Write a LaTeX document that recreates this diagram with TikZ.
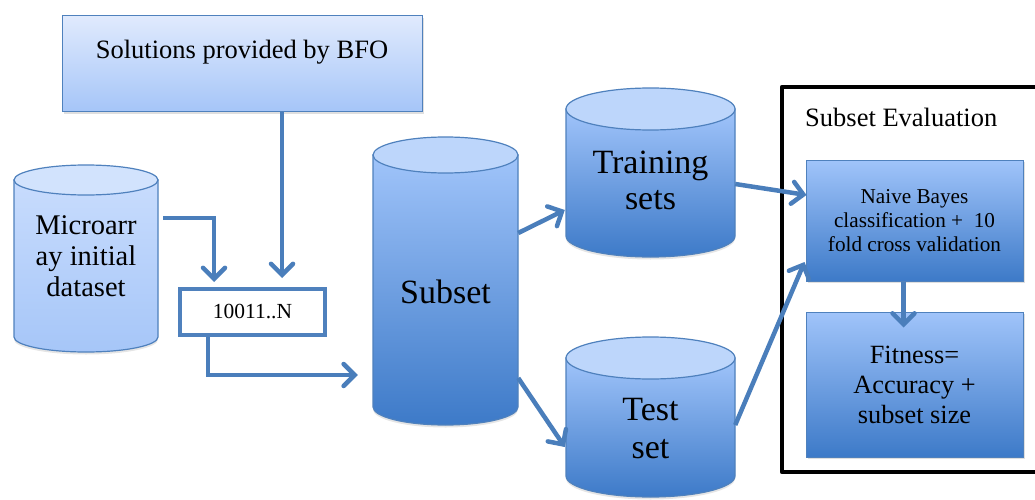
\documentclass[tikz,border=0pt]{standalone}
\usepackage{fontspec}
\setmainfont{Liberation Serif}
\usetikzlibrary{arrows.meta,shadows}
\definecolor{lineblue}{HTML}{4F81BD}
\definecolor{arrblue}{HTML}{4A7EBB}
\definecolor{dtop}{HTML}{A0C4FA}
\definecolor{dbot}{HTML}{3D7AC8}
\definecolor{dcap}{HTML}{BDD6FB}
\definecolor{ltop}{HTML}{C8DCFD}
\definecolor{lbot}{HTML}{A6C6F8}
\definecolor{lcap}{HTML}{D2E3FD}
\definecolor{btop}{HTML}{E0EAFD}
\definecolor{bbot}{HTML}{A5C5F8}
\newcommand\drawcyl[8]{%
  \path[draw=lineblue, line width=1.2pt, top color=#6, bottom color=#7,
        drop shadow={opacity=0.2, shadow xshift=0pt, shadow yshift=-2.5pt}]
    (#1,#3) -- (#1,#4) arc[start angle=180,end angle=360,x radius={(#2-#1)/2},y radius=#5]
    -- (#2,#3) -- cycle;
  \path[draw=lineblue, line width=1.2pt, fill=#8]
    ({(#1+#2)/2},#3) ellipse[x radius={(#2-#1)/2}, y radius=#5];
}
\tikzset{
  cyltext/.style={inner sep=0pt, align=center},
  gradbox/.style={draw=lineblue, line width=1pt, top color=dtop, bottom color=dbot,
    inner sep=0pt, align=center, minimum width=217pt,
    drop shadow={opacity=0.25, shadow xshift=2pt, shadow yshift=-2pt}},
  arr/.style={draw=arrblue, line width=4.5pt,
    -{Straight Barb[length=11pt,width=22pt,line cap=round]}},
}
\begin{document}
\begin{tikzpicture}[x=1pt,y=1pt]
\useasboundingbox (0,0) rectangle (1035,499);
\clip (0,0) rectangle (1035,499);
\fill[white] (0,0) rectangle (1035,499);

% cylinders
\drawcyl{14}{158}{319}{162}{15}{ltop}{lbot}{lcap}
\drawcyl{373}{518}{344}{92}{18}{dtop}{dbot}{dcap}
\drawcyl{566}{735}{390}{263}{21}{dtop}{dbot}{dcap}
\drawcyl{566}{735}{141}{23}{21}{dtop}{dbot}{dcap}

\node[cyltext, minimum width=144pt, font=\fontsize{28.5}{31}\selectfont] (micro) at (86,243) {Microarr\\ay initial\\dataset};
\node[cyltext, minimum width=145pt, font=\fontsize{34}{36}\selectfont] (sub) at (445.5,207) {Subset};
\node[cyltext, minimum width=169pt, font=\fontsize{34}{36}\selectfont] (train) at (650.5,318.5) {Training\\sets};
\node[cyltext, minimum width=169pt, font=\fontsize{34}{38}\selectfont] (test) at (650.5,70) {Test\\set};

% top box
\node[draw=lineblue, line width=1pt, top color=btop, bottom color=bbot,
      minimum width=360pt, minimum height=96pt, inner sep=0pt,
      text height=18pt, text depth=28pt,
      drop shadow={opacity=0.25, shadow xshift=2pt, shadow yshift=-2pt},
      font=\fontsize{26.5}{30}\selectfont] (bfo) at (242,435) {Solutions provided by BFO};

% bit string box
\node[draw=lineblue, line width=4pt, fill=white, minimum width=145pt, minimum height=46pt,
      inner sep=0pt, font=\fontsize{21.5}{24}\selectfont] (bits) at (252.5,187) {10011..N};

% evaluation frame
\draw[line width=4.5pt, line join=round] (1045,412) -- (782,412) -- (782,27) -- (1045,27);
\node[anchor=west, inner sep=0pt, font=\fontsize{26.5}{30}\selectfont] (evtitle) at (805,382) {Subset Evaluation};

\node[gradbox, minimum height=121pt, font=\fontsize{21.2}{24}\selectfont] (naive) at (914.5,278.5)
  {Naive Bayes\\classification +\ \ 10\\fold cross validation};
\node[gradbox, minimum height=145pt, font=\fontsize{26.3}{30}\selectfont] (fit) at (914.5,114.5)
  {Fitness=\\Accuracy +\\subset size};

% connectors
\draw[arr] ([xshift=5pt,yshift=38pt]micro.east) -| ([xshift=-38.5pt,yshift=5pt]bits.north);
\draw[arr] ([xshift=40pt]bfo.south) -- ([xshift=29.5pt,yshift=9pt]bits.north);
\draw[arr] ([xshift=-44.5pt]bits.south) |- ([xshift=-15pt,yshift=-83pt]sub.west);
\draw[arr] ([yshift=59pt]sub.east) -- ([xshift=-1pt,yshift=-29.5pt]train.west);
\draw[arr] ([yshift=-86pt]sub.east) -- ([xshift=-1pt,yshift=-18pt]test.west);
\draw[arr] ([yshift=-3.5pt]train.east) -- ([xshift=1pt,yshift=25.5pt]naive.west);
\draw[arr] ([yshift=4pt]test.east) -- ([xshift=-1pt,yshift=-41.5pt]naive.west);
\draw[arr] ([xshift=-11pt]naive.south) -- ([xshift=-11pt,yshift=-16pt]fit.north);
\end{tikzpicture}
\end{document}
